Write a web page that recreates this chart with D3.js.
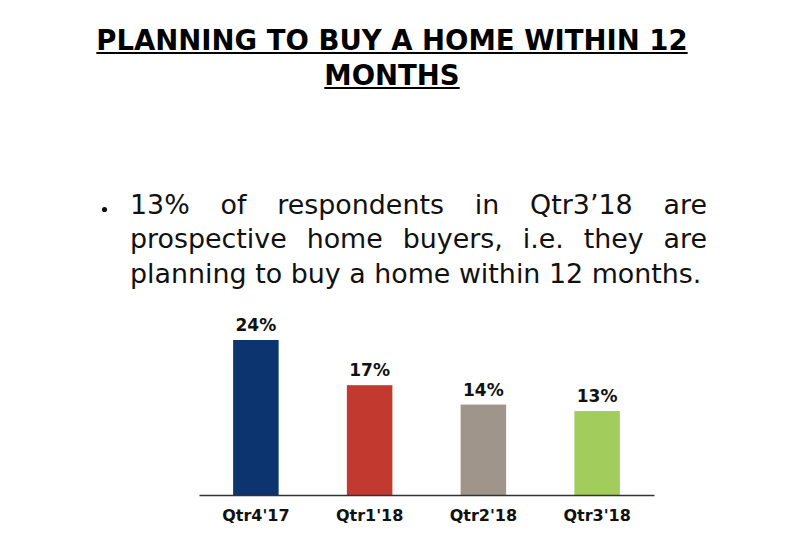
<!DOCTYPE html>
<html>
<head>
<meta charset="utf-8">
<script src="https://cdn.jsdelivr.net/npm/d3@7"></script>
<style>
  body { margin: 0; background: #fff; }
</style>
</head>
<body>
<script>
const width = 800;
const height = 551;

// data
const titleLines = ["PLANNING TO BUY A HOME WITHIN 12", "MONTHS"];
const bulletText =
  "13% of respondents in Qtr3\u201918 are prospective home buyers, i.e. they are planning to buy a home within 12 months.";
const quarters = ["Qtr4'17", "Qtr1'18", "Qtr2'18", "Qtr3'18"];
const shares = [24, 17, 14, 13];
const barColors = ["#0c3570", "#c1392f", "#9f958b", "#a2cc5c"];

const svg = d3
  .select("body")
  .append("svg")
  .attr("width", width)
  .attr("height", height);

// title, bold + underlined
const title = svg.append("g");
titleLines.forEach((t, i) => {
  const y = 50 + i * 35;
  const txt = title
    .append("text")
    .attr("x", 392)
    .attr("y", y)
    .attr("text-anchor", "middle")
    .attr("font-family", "DejaVu Sans, Verdana, sans-serif")
    .attr("font-weight", "bold")
    .attr("font-size", 27.5)
    .attr("fill", "#000")
    .text(t);
  const w = txt.node().getComputedTextLength();
  title
    .append("line")
    .attr("x1", 392 - w / 2)
    .attr("x2", 392 + w / 2)
    .attr("y1", y + 3)
    .attr("y2", y + 3)
    .attr("stroke", "#000")
    .attr("stroke-width", 2.2);
});

// bullet paragraph, justified
const textLeft = 130;
const textRight = 707;
const lineGap = 34.5;
const firstBase = 213.5;
const words = bulletText.split(" ");

const para = svg
  .append("g")
  .attr("font-family", "DejaVu Sans, Verdana, sans-serif")
  .attr("fill", "#111");

// font size picked so the last line is as long as in the picture
const probe = para.append("text").attr("font-size", 100).text("planning to buy a home within 12 months.");
const fontSize = (100 * 572) / probe.node().getComputedTextLength();
probe.remove();
para.attr("font-size", fontSize);

const measure = para.append("text");
const wordWidth = (w) => measure.text(w).node().getComputedTextLength();
const spaceWidth = wordWidth("a a") - 2 * wordWidth("a");

const lines = [];
let current = [];
let currentWidth = 0;
words.forEach((w) => {
  const ww = wordWidth(w);
  const next = current.length ? currentWidth + spaceWidth + ww : ww;
  if (next > textRight - textLeft + 2 && current.length) {
    lines.push(current);
    current = [w];
    currentWidth = ww;
  } else {
    current.push(w);
    currentWidth = next;
  }
});
lines.push(current);

const placed = lines.map((line) => line.map(wordWidth));
measure.remove();

lines.forEach((line, li) => {
  const y = firstBase + li * lineGap;
  const widths = placed[li];
  const total = d3.sum(widths);
  const last = li === lines.length - 1;
  const gap = last || line.length < 2 ? spaceWidth : (textRight - textLeft - total) / (line.length - 1);
  let x = textLeft;
  line.forEach((w, wi) => {
    para.append("text").attr("x", x).attr("y", y).text(w);
    x += widths[wi] + gap;
  });
});

para
  .append("circle")
  .attr("cx", 104.5)
  .attr("cy", 209.5)
  .attr("r", 2.6)
  .attr("fill", "#111");

// bar chart
const baseY = 495;
const x = d3
  .scaleBand()
  .domain(quarters)
  .range([199, 654])
  .paddingInner(0.6)
  .paddingOuter(0.3);

const y = d3.scaleLinear().domain([0, 24]).range([baseY, 340]);

const chart = svg.append("g");

chart
  .selectAll("rect")
  .data(shares)
  .join("rect")
  .attr("x", (d, i) => x(quarters[i]))
  .attr("y", (d) => y(d))
  .attr("width", x.bandwidth())
  .attr("height", (d) => baseY - y(d))
  .attr("fill", (d, i) => barColors[i]);

chart
  .selectAll(".val")
  .data(shares)
  .join("text")
  .attr("class", "val")
  .attr("x", (d, i) => x(quarters[i]) + x.bandwidth() / 2)
  .attr("y", (d) => y(d) - 9)
  .attr("text-anchor", "middle")
  .attr("font-family", "DejaVu Sans, Verdana, sans-serif")
  .attr("font-weight", "bold")
  .attr("font-size", 17)
  .attr("fill", "#111")
  .text((d) => d + "%");

const xAxis = d3.axisBottom(x).tickSize(0).tickPadding(15);
const axisG = chart
  .append("g")
  .attr("transform", `translate(0,${baseY})`)
  .call(xAxis);
axisG.select(".domain").attr("stroke", "#333").attr("stroke-width", 1.5);
axisG
  .selectAll("text")
  .attr("font-family", "DejaVu Sans, Verdana, sans-serif")
  .attr("font-weight", "bold")
  .attr("font-size", 16)
  .attr("fill", "#111");
</script>
</body>
</html>
